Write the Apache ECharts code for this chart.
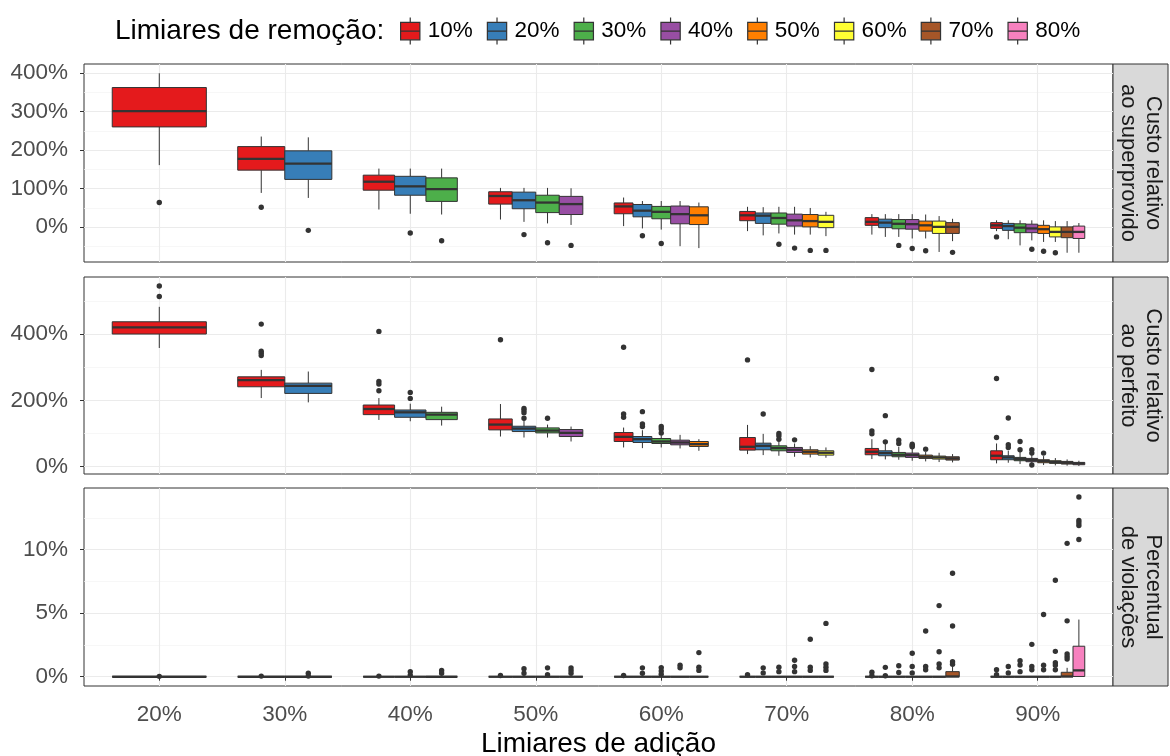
<!DOCTYPE html>
<html><head><meta charset="utf-8">
<script src="https://cdn.jsdelivr.net/npm/echarts@6/dist/echarts.min.js"></script>
<style>html,body{margin:0;padding:0;background:#fff}#c{width:1170px;height:756px}</style>
</head><body><div id="c"></div>
<script>
const additionLabels = ['20%','30%','40%','50%','60%','70%','80%','90%'];
const removalLabels = ['10%','20%','30%','40%','50%','60%','70%','80%'];
const removalColors = ['#E41A1C','#377EB8','#4DAF4A','#984EA3','#FF7F00','#FFFF33','#A65628','#F781BF'];
const panelTitles = ['Custo relativo\nao superprovido','Custo relativo\nao perfeito','Percentual\nde violações'];
const legendTitle = 'Limiares de remoção:';
const xTitle = 'Limiares de adição';
const yTicks1 = [0,100,200,300,400], yMinor1 = [-50,50,150,250,350];
const yTicks2 = [0,200,400], yMinor2 = [100,300,500];
const yTicks3 = [0,5,10], yMinor3 = [2.5,7.5,12.5];

// rows: [removal, addition, min, q1, median, q3, max]
const superBoxes = [
 ['10%','20%',161,260,301,362,399],['10%','30%',89,148,177,209,235],['10%','40%',46,96,118,135,152],
 ['10%','50%',20,60,81,92,102],['10%','60%',3,35,54,63,77],['10%','70%',-10,17,31,41,53],
 ['10%','80%',-19,5,14,25,34],['10%','90%',-10,-3,5,12,18],
 ['20%','30%',76,124,165,198,233],['20%','40%',35,83,106,132,152],['20%','50%',14,48,70,91,102],
 ['20%','60%',-3,27,43,59,68],['20%','70%',-21,10,30,37,52],['20%','80%',-25,-1,12,21,34],['20%','90%',-31,-8,3,10,18],
 ['30%','40%',33,67,99,128,152],['30%','50%',10,38,64,83,102],['30%','60%',-6,22,40,54,68],
 ['30%','70%',-16,8,24,37,53],['30%','80%',-25,-4,9,20,34],['30%','90%',-47,-14,-1,9,18],
 ['40%','50%',6,33,60,80,101],['40%','60%',-49,9,34,55,68],['40%','70%',-19,3,18,34,53],
 ['40%','80%',-29,-5,8,20,34],['40%','90%',-34,-14,-3,8,18],
 ['50%','60%',-54,7,31,53,64],['50%','70%',-19,1,16,33,50],['50%','80%',-29,-10,5,16,33],['50%','90%',-38,-16,-5,5,18],
 ['60%','70%',-23,-1,14,31,40],['60%','80%',-64,-16,1,16,29],['60%','90%',-38,-25,-12,1,16],
 ['70%','80%',-36,-16,1,12,22],['70%','90%',-66,-27,-12,1,16],
 ['80%','90%',-66,-29,-12,3,11]
];
// rows: [removal, addition, value]
const superOutliers = [
 ['10%','20%',64],['10%','30%',52],['10%','90%',-25],
 ['20%','30%',-8],['20%','40%',-15],['20%','50%',-19],['20%','60%',-22],
 ['30%','40%',-35],['30%','50%',-40],['30%','60%',-42],['30%','70%',-44],['30%','80%',-47],
 ['40%','50%',-47],['40%','70%',-54],['40%','80%',-55],['40%','90%',-57],
 ['50%','70%',-60],['50%','80%',-61],['50%','90%',-62],
 ['60%','70%',-60],['60%','90%',-66],
 ['70%','80%',-65]
];
const perfBoxes = [
 ['10%','20%',358,400,420,437,482],['10%','30%',207,241,261,271,292],['10%','40%',141,157,174,186,207],
 ['10%','50%',91,111,127,144,189],['10%','60%',58,76,90,103,118],['10%','70%',38,50,60,88,126],
 ['10%','80%',23,36,45,55,83],['10%','90%',10,21,33,48,70],
 ['20%','30%',194,221,244,252,287],['20%','40%',137,149,164,171,190],['20%','50%',88,106,115,122,140],
 ['20%','60%',56,73,83,91,110],['20%','70%',35,51,63,71,99],['20%','80%',22,33,41,48,70],['20%','90%',12,21,28,33,48],
 ['30%','40%',124,142,157,164,181],['30%','50%',88,102,109,117,127],['30%','60%',58,70,76,85,96],
 ['30%','70%',33,48,56,63,75],['30%','80%',21,30,36,43,60],['30%','90%',8,18,23,28,45],
 ['40%','50%',76,91,102,112,121],['40%','60%',55,66,73,80,96],['40%','70%',30,43,51,58,70],
 ['40%','80%',18,28,35,41,55],['40%','90%',8,15,20,25,38],
 ['50%','60%',48,61,68,76,83],['50%','70%',28,38,45,51,62],['50%','80%',16,25,30,35,45],['50%','90%',5,12,17,21,32],
 ['60%','70%',27,35,42,48,58],['60%','80%',14,23,28,32,42],['60%','90%',4,10,14,18,26],
 ['70%','80%',13,20,25,30,38],['70%','90%',3,8,12,16,22],
 ['80%','90%',2,6,10,13,18]
];
const perfOutliers = [
 ['10%','20%',545],['10%','20%',513],['10%','30%',430],['10%','30%',348],['10%','30%',342],['10%','30%',335],
 ['10%','40%',408],['10%','40%',257],['10%','40%',249],['10%','40%',229],['10%','50%',383],
 ['10%','60%',360],['10%','60%',159],['10%','60%',149],['10%','70%',322],
 ['10%','80%',293],['10%','80%',108],['10%','80%',99],['10%','90%',266],['10%','90%',88],
 ['20%','40%',224],['20%','40%',206],['20%','50%',176],['20%','50%',170],['20%','50%',163],['20%','50%',146],
 ['20%','60%',166],['20%','60%',129],['20%','60%',121],['20%','70%',159],['20%','80%',154],['20%','80%',75],
 ['20%','90%',147],['20%','90%',66],['20%','90%',58],
 ['30%','50%',146],['30%','60%',121],['30%','60%',114],['30%','60%',102],
 ['30%','70%',100],['30%','70%',93],['30%','70%',83],['30%','80%',80],['30%','80%',70],['30%','90%',76],['30%','90%',51],
 ['40%','70%',81],['40%','80%',68],['40%','80%',63],['40%','80%',60],['40%','90%',51],['40%','90%',41],['40%','90%',5],
 ['50%','80%',53],['50%','90%',41]
];
const violBoxes = [
 ['10%','20%',0,0,0,0,0],['10%','30%',0,0,0,0,0],['10%','40%',0,0,0,0,0],['10%','50%',0,0,0,0,0],
 ['10%','60%',0,0,0,0,0],['10%','70%',0,0,0,0,0],['10%','80%',0,0,0,0,0],['10%','90%',0,0,0,0,0],
 ['20%','30%',0,0,0,0,0],['20%','40%',0,0,0,0,0],['20%','50%',0,0,0,0,0],['20%','60%',0,0,0,0,0],
 ['20%','70%',0,0,0,0,0],['20%','80%',0,0,0,0,0],['20%','90%',0,0,0,0,0],
 ['30%','40%',0,0,0,0,0],['30%','50%',0,0,0,0,0],['30%','60%',0,0,0,0,0],['30%','70%',0,0,0,0,0],
 ['30%','80%',0,0,0,0,0],['30%','90%',0,0,0,0,0],
 ['40%','50%',0,0,0,0,0],['40%','60%',0,0,0,0,0],['40%','70%',0,0,0,0,0],['40%','80%',0,0,0,0,0],['40%','90%',0,0,0,0,0],
 ['50%','60%',0,0,0,0,0],['50%','70%',0,0,0,0,0],['50%','80%',0,0,0,0,0],['50%','90%',0,0,0,0,0],
 ['60%','70%',0,0,0,0,0],['60%','80%',0,0,0,0,0],['60%','90%',0,0,0,0,0],
 ['70%','80%',0,0,0.02,0.4,0.8],['70%','90%',0,0,0.02,0.35,0.7],
 ['80%','90%',0,0.02,0.5,2.4,4.5]
];
const violOutliers = [
 ['10%','20%',0.03],['10%','30%',0.05],['10%','40%',0.05],['10%','50%',0.1],['10%','60%',0.1],['10%','70%',0.15],
 ['10%','80%',0.35],['10%','80%',0.08],['10%','90%',0.55],['10%','90%',0.15],
 ['20%','30%',0.27],['20%','30%',0.05],['20%','40%',0.4],['20%','40%',0.13],['20%','50%',0.63],['20%','50%',0.27],
 ['20%','60%',0.7],['20%','60%',0.27],['20%','70%',0.7],['20%','70%',0.3],['20%','80%',0.74],['20%','80%',0.08],
 ['20%','90%',0.8],['20%','90%',0.3],
 ['30%','40%',0.5],['30%','40%',0.27],['30%','50%',0.7],['30%','50%',0.15],['30%','60%',0.72],['30%','60%',0.45],['30%','60%',0.2],
 ['30%','70%',0.75],['30%','70%',0.4],['30%','80%',0.87],['30%','80%',0.33],['30%','90%',1.26],['30%','90%',0.92],['30%','90%',0.4],
 ['40%','50%',0.7],['40%','50%',0.5],['40%','50%',0.27],['40%','60%',0.9],['40%','60%',0.7],
 ['40%','70%',1.3],['40%','70%',0.8],['40%','70%',0.4],['40%','80%',1.85],['40%','80%',0.8],['40%','80%',0.3],
 ['40%','90%',2.55],['40%','90%',0.8],['40%','90%',0.55],
 ['50%','60%',1.9],['50%','60%',0.75],['50%','60%',0.5],['50%','70%',2.95],['50%','70%',0.75],['50%','70%',0.5],
 ['50%','80%',3.6],['50%','80%',0.8],['50%','80%',0.55],['50%','90%',4.9],['50%','90%',0.9],['50%','90%',0.55],
 ['60%','70%',4.2],['60%','70%',1.0],['60%','70%',0.75],['60%','70%',0.5],
 ['60%','80%',5.6],['60%','80%',1.97],['60%','80%',1.0],['60%','80%',0.7],
 ['60%','90%',7.6],['60%','90%',2.0],['60%','90%',1.1],['60%','90%',0.9],['60%','90%',0.55],
 ['70%','80%',8.15],['70%','80%',4.0],['70%','80%',1.18],['70%','80%',0.98],
 ['70%','90%',10.5],['70%','90%',4.4],['70%','90%',1.8],['70%','90%',1.6],['70%','90%',1.4],
 ['80%','90%',14.15],['80%','90%',12.3],['80%','90%',12.1],['80%','90%',11.9],['80%','90%',10.8]
];

const FONT = "'Liberation Sans', Arial, Helvetica, sans-serif";
const panelDefs = [
  {boxes: superBoxes, outliers: superOutliers, ticks: yTicks1, minor: yMinor1, min: -90, max: 423, top: 64, height: 198},
  {boxes: perfBoxes, outliers: perfOutliers, ticks: yTicks2, minor: yMinor2, min: -22, max: 572, top: 277, height: 197},
  {boxes: violBoxes, outliers: violOutliers, ticks: yTicks3, minor: yMinor3, min: -0.73, max: 14.86, top: 488, height: 198}
];
const GRID_LEFT = 84, GRID_W = 1029;
const catNum = lab => additionLabels.indexOf(lab) + 1;
const catValues = additionLabels.map((l, i) => i + 1);

const grids = [], xAxes = [], yAxes = [], series = [], graphics = [];

panelDefs.forEach((p, g) => {
  const isBottom = g === panelDefs.length - 1;
  grids.push({left: GRID_LEFT, top: p.top, width: GRID_W, height: p.height, show: true,
    borderColor: '#333', borderWidth: 1, backgroundColor: 'transparent'});
  xAxes.push({type: 'value', gridIndex: g, min: 0.4, max: 8.6,
    axisLine: {show: false},
    axisTick: {show: isBottom, customValues: catValues, length: 4, lineStyle: {color: '#333'}},
    axisLabel: {show: isBottom, customValues: catValues, margin: 17, color: '#4D4D4D', fontSize: 22.5, fontFamily: FONT,
      formatter: v => additionLabels[Math.round(v) - 1]},
    splitLine: {show: true, lineStyle: {color: '#EBEBEB', width: 1.1}}});
  yAxes.push({type: 'value', gridIndex: g, min: p.min, max: p.max,
    axisLine: {show: false},
    axisTick: {show: true, customValues: p.ticks, length: 4, lineStyle: {color: '#333'}},
    axisLabel: {show: true, customValues: p.ticks, margin: 16, color: '#4D4D4D', fontSize: 22.5, fontFamily: FONT,
      formatter: v => v + '%'},
    splitLine: {show: true, lineStyle: {color: '#EBEBEB', width: 1.1}}});
  yAxes.push({type: 'value', gridIndex: g, min: p.min, max: p.max, position: 'left',
    axisLine: {show: false},
    axisTick: {show: false, customValues: p.minor},
    axisLabel: {show: false, customValues: p.minor},
    splitLine: {show: true, lineStyle: {color: '#F4F4F4', width: 0.7}}});

  // dodge bookkeeping derived from the data
  const countAt = {}, rankAt = {};
  p.boxes.forEach(b => {
    const c = catNum(b[1]);
    countAt[c] = (countAt[c] || 0) + 1;
  });
  removalLabels.forEach((rl, j) => {
    rankAt[j] = {};
    additionLabels.forEach(al => {
      const c = catNum(al);
      rankAt[j][c] = p.boxes.filter(b => b[1] === al && removalLabels.indexOf(b[0]) < j).length;
    });
  });
  const dodge = (api, cat, j) => {
    const n = countAt[cat], k = rankAt[j][cat];
    const unit = api.size([1, 0], [cat, 0])[0];
    const groupW = unit * 0.75, w = groupW / n;
    const cx = api.coord([cat, 0])[0] - groupW / 2 + (k + 0.5) * w;
    return {cx, w};
  };

  removalLabels.forEach((rl, j) => {
    const color = removalColors[j];
    const rows = p.boxes.filter(b => b[0] === rl).map(b => [catNum(b[1]), b[2], b[3], b[4], b[5], b[6]]);
    series.push({
      type: 'custom', name: rl, xAxisIndex: g, yAxisIndex: 2 * g, silent: true, z: 3,
      itemStyle: {color},
      encode: {x: 0, y: [1, 2, 3, 4, 5]},
      data: rows,
      renderItem: (params, api) => {
        const cat = api.value(0);
        const {cx, w} = dodge(api, cat, j);
        const Y = i => api.coord([cat, api.value(i)])[1];
        const yMin = Y(1), yQ1 = Y(2), yMed = Y(3), yQ3 = Y(4), yMax = Y(5);
        const ln = (x1, y1, x2, y2, lw) => ({type: 'line', shape: {x1, y1, x2, y2}, style: {stroke: '#333', lineWidth: lw}});
        return {type: 'group', children: [
          ln(cx, yQ3, cx, yMax, 1),
          ln(cx, yQ1, cx, yMin, 1),
          {type: 'rect', shape: {x: cx - w / 2, y: yQ3, width: w, height: yQ1 - yQ3},
            style: {fill: color, stroke: '#333', lineWidth: 1}},
          ln(cx - w / 2, yMed, cx + w / 2, yMed, 2.3)
        ]};
      }
    });
    const orows = p.outliers.filter(o => o[0] === rl).map(o => [catNum(o[1]), o[2]]);
    series.push({
      type: 'custom', name: rl, xAxisIndex: g, yAxisIndex: 2 * g, silent: true, z: 4,
      itemStyle: {color},
      encode: {x: 0, y: 1},
      data: orows,
      renderItem: (params, api) => {
        const cat = api.value(0);
        const {cx} = dodge(api, cat, j);
        const cy = api.coord([cat, api.value(1)])[1];
        return {type: 'circle', shape: {cx, cy, r: 2.7}, style: {fill: '#333'}};
      }
    });
  });

  // facet strip
  graphics.push({type: 'rect', shape: {x: 1113, y: p.top, width: 55, height: p.height},
    style: {fill: '#D9D9D9', stroke: '#333', lineWidth: 1}, silent: true});
  graphics.push({type: 'text', x: 1113 + 27.5, y: p.top + p.height / 2, rotation: -Math.PI / 2, silent: true,
    style: {text: panelTitles[g], font: "22px " + FONT, fill: '#1A1A1A', align: 'center', verticalAlign: 'middle',
      textAlign: 'center', textVerticalAlign: 'middle', lineHeight: 25}});
});

graphics.push({type: 'text', x: 115, y: 31, silent: true,
  style: {text: legendTitle, font: "28px " + FONT, fill: '#000', align: 'left', verticalAlign: 'middle',
    textAlign: 'left', textVerticalAlign: 'middle'}});
graphics.push({type: 'text', x: GRID_LEFT + GRID_W / 2, y: 744, silent: true,
  style: {text: xTitle, font: "28px " + FONT, fill: '#000', align: 'center', verticalAlign: 'middle',
    textAlign: 'center', textVerticalAlign: 'middle'}});

const keyIcon = 'path://M12,0 V5 M2,5 H22 V23 H2 Z M2,14 H22 M12,23 V28';

const chart = echarts.init(document.getElementById('c'), null, {renderer: 'canvas'});
chart.setOption({
  animation: false,
  backgroundColor: '#fff',
  grid: grids, xAxis: xAxes, yAxis: yAxes, series: series,
  legend: {
    left: 400, top: 17, padding: 0, itemWidth: 25, itemHeight: 27, itemGap: 14, selectedMode: false,
    textStyle: {fontSize: 22.5, color: '#000', fontFamily: FONT},
    data: removalLabels.map((l, i) => ({name: l, icon: keyIcon,
      itemStyle: {color: removalColors[i], borderColor: '#333', borderWidth: 1.2}}))
  },
  graphic: graphics
});
</script></body></html>
